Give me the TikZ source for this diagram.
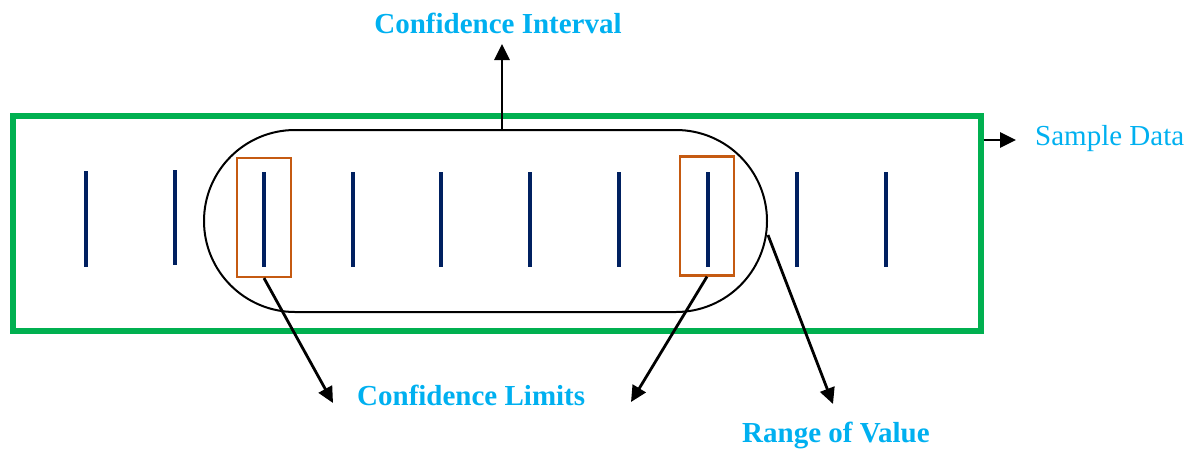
\documentclass[tikz,border=0pt]{standalone}
\usepackage{fontspec}
\setmainfont{Liberation Serif}
\usetikzlibrary{arrows.meta}
\definecolor{sampgreen}{HTML}{00B050}
\definecolor{barblue}{HTML}{002060}
\definecolor{limorange}{HTML}{C55A11}
\definecolor{labelblue}{HTML}{00B0F0}
\tikzset{
  samplebox/.style={draw=sampgreen, line width=6pt, minimum width=968pt, minimum height=215pt, inner sep=0pt},
  pillbox/.style={draw=black, line width=2pt, rounded corners=91pt, minimum width=563pt, minimum height=182pt, inner sep=0pt},
  limbox/.style={draw=limorange, line width=2.2pt, minimum width=54pt, minimum height=119pt, inner sep=0pt},
  databar/.style={draw=barblue, line width=3.2pt},
  arr/.style={draw=black, line width=2.8pt, -{Triangle[length=16pt,width=15pt]}},
  lbl/.style={text=labelblue, font=\fontsize{29}{34}\selectfont, inner sep=0pt},
  blbl/.style={lbl, font=\fontsize{29}{34}\selectfont\bfseries}
}
\begin{document}
\begin{tikzpicture}[x=1pt,y=-1pt]
\useasboundingbox (0,0) rectangle (1191,448);
% sample data frame
\node[samplebox] (sample) at (496.5,223.5) {};
% data bars
\foreach \x/\t/\b in {86/171/267,175/170/265,264/172/267,353/172/267,441/172/267,530/172/267,619/172/267,708/172/267,797/172/267,886/172/267}{
  \draw[databar] (\x,\t) -- (\x,\b);
}
% confidence interval pill
\node[pillbox] (pill) at (485.5,221) {};
% confidence limit boxes
\node[limbox] (limL) at (264,217.5) {};
\node[limbox] (limR) at (707,216) {};
% labels
\node[blbl, anchor=base] (ci) at (498,33) {Confidence Interval};
\node[lbl, anchor=base west] (sd) at (1035,145) {Sample Data};
\node[blbl, anchor=base west] (cl) at (357,405) {Confidence Limits};
\node[blbl, anchor=base west] (rv) at (742,442) {Range of Value};
% arrow ends
\coordinate (ciTip) at (502,44);
\coordinate (sdTip) at (1016,140);
\coordinate (clTipL) at (333,403);
\coordinate (clTipR) at (631,402);
\coordinate (rvTip) at (833,404);
% connectors
\draw[arr] (ciTip |- pill.north) -- (ciTip);
\draw[arr] (sample.east |- sdTip) -- (sdTip);
\draw[arr] (limL.south) -- (clTipL);
\draw[arr] (limR.south) -- (clTipR);
\draw[arr] ([yshift=-14pt]pill.east) -- (rvTip);
\end{tikzpicture}
\end{document}
